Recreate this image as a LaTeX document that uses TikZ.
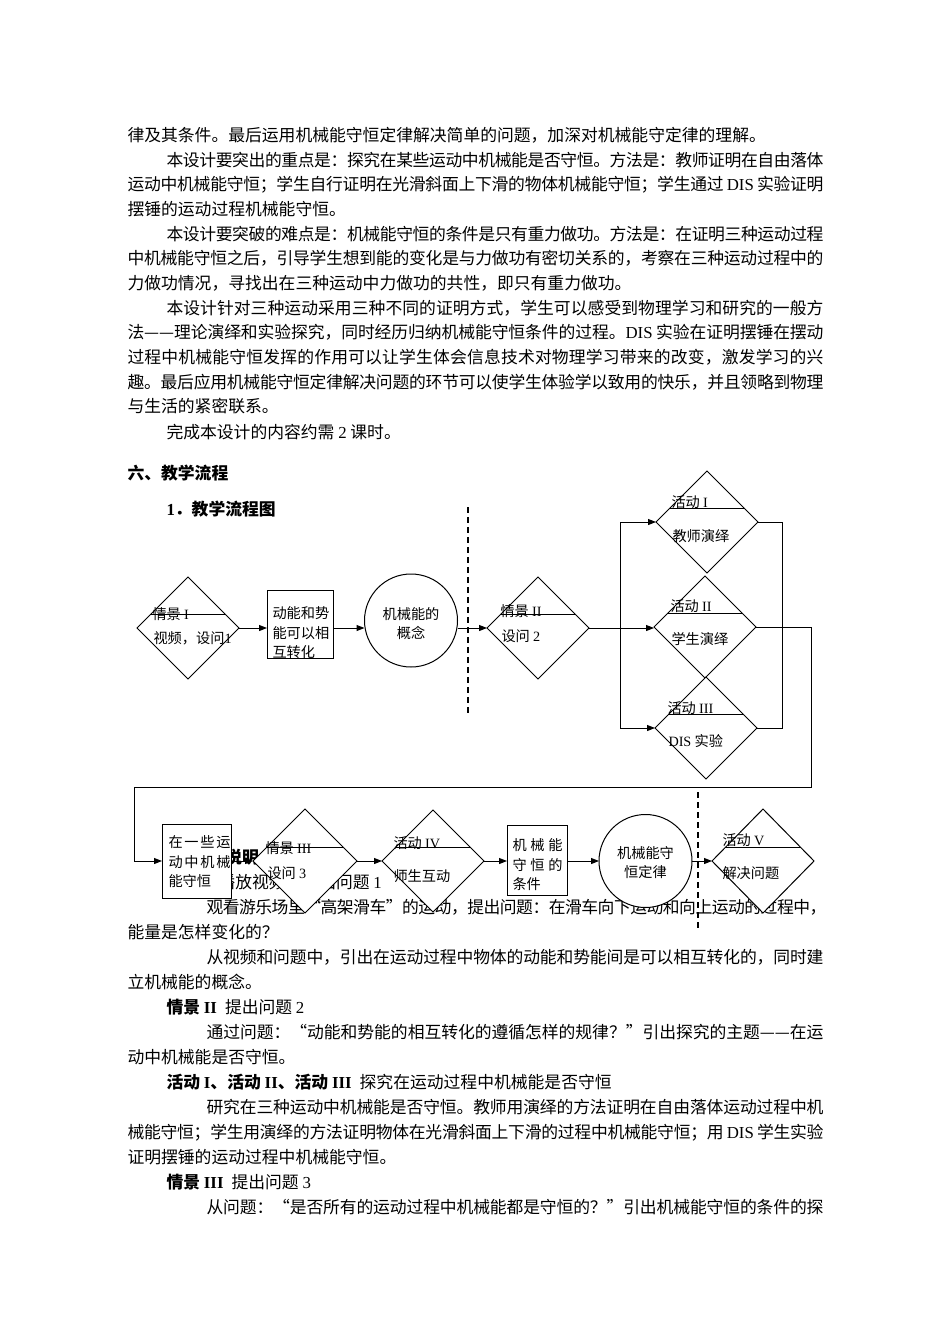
\documentclass[tikz,border=0pt]{standalone}
\usepackage{fontspec}
\setmainfont{Noto Sans CJK SC}
\newfontfamily\latinfont{Liberation Serif}
\newcommand\en[1]{{\latinfont #1}}
\newcommand\jline[2]{\hbox to #1pt{#2}}
\usetikzlibrary{shapes.geometric,arrows.meta,calc}

% stretchable gaps between CJK characters, for justified lines
\XeTeXinterchartokenstate=1
\newcount\cjkc
\cjkc="3000
\loop\XeTeXcharclass\cjkc=7 \advance\cjkc by 1 \ifnum\cjkc<"A000 \repeat
\cjkc="FF00
\loop\XeTeXcharclass\cjkc=7 \advance\cjkc by 1 \ifnum\cjkc<"FFF0 \repeat
\XeTeXcharclass"201C=7 \XeTeXcharclass"201D=7 \XeTeXcharclass"2014=7
\XeTeXinterchartoks 7 7 = {\hskip 0pt plus 1pt minus 0.5pt\relax}

\tikzset{
  para/.style={anchor=base west, inner sep=0pt, font=\fontsize{16.8pt}{20pt}\selectfont},
  ftext/.style={inner sep=0pt, font=\fontsize{14.2pt}{19.5pt}\selectfont},
  dia/.style={diamond, draw, fill=white, minimum width=102pt, minimum height=102pt, inner sep=0pt, outer sep=0pt},
  box/.style={rectangle, draw, fill=white, inner sep=0pt, outer sep=0pt},
  ring/.style={circle, draw, fill=white, minimum size=93pt, inner sep=0pt, outer sep=0pt},
  arr/.style={-{Triangle[length=8pt,width=6pt]}},
  cut/.style={dashed, dash pattern=on 6pt off 4pt, line width=1.4pt}
}

\begin{document}
\begin{tikzpicture}[x=1pt, y=-1pt, line width=1pt]
  \useasboundingbox (0,0) rectangle (950,1344);
  \fill[white] (0,0) rectangle (950,1344);

  % page text
  \node[para] (p1) at (127,141) {律及其条件。最后运用机械能守恒定律解决简单的问题，加深对机械能守定律的理解。};
  \node[para] (p2) at (166,166) {\jline{657}{本设计要突出的重点是：探究在某些运动中机械能是否守恒。方法是：教师证明在自由落体}};
  \node[para] (p3) at (127,190) {\jline{696}{运动中机械能守恒；学生自行证明在光滑斜面上下滑的物体机械能守恒；学生通过 \en{DIS} 实验证明}};
  \node[para] (p4) at (127,215) {摆锤的运动过程机械能守恒。};
  \node[para] (p5) at (166,240) {\jline{657}{本设计要突破的难点是：机械能守恒的条件是只有重力做功。方法是：在证明三种运动过程}};
  \node[para] (p6) at (127,264) {\jline{696}{中机械能守恒之后，引导学生想到能的变化是与力做功有密切关系的，考察在三种运动过程中的}};
  \node[para] (p7) at (127,289) {力做功情况，寻找出在三种运动中力做功的共性，即只有重力做功。};
  \node[para] (p8) at (166,314) {\jline{657}{本设计针对三种运动采用三种不同的证明方式，学生可以感受到物理学习和研究的一般方}};
  \node[para] (p9) at (127,338) {\jline{696}{法——理论演绎和实验探究，同时经历归纳机械能守恒条件的过程。\en{DIS} 实验在证明摆锤在摆动}};
  \node[para] (p10) at (127,363) {\jline{696}{过程中机械能守恒发挥的作用可以让学生体会信息技术对物理学习带来的改变，激发学习的兴}};
  \node[para] (p11) at (127,388) {\jline{696}{趣。最后应用机械能守恒定律解决问题的环节可以使学生体验学以致用的快乐，并且领略到物理}};
  \node[para] (p12) at (127,412) {与生活的紧密联系。};
  \node[para] (p13) at (166,438) {完成本设计的内容约需 \en{2} 课时。};
  \node[para, font=\fontsize{16.8pt}{20pt}\selectfont\bfseries] (h1) at (127,479) {六、教学流程};
  \node[para, font=\fontsize{16.8pt}{20pt}\selectfont\bfseries] (h2) at (166,515) {\en{1}．教学流程图};
  \node[para, font=\fontsize{16.8pt}{20pt}\selectfont\bfseries] (h3) at (166,863) {\en{2}．流程说明};
  \node[para] (q1) at (166,888) {{\bfseries 情景 \en{I}}\hspace{8pt}播放视频，提出问题 \en{1}};
  \node[para] (q2) at (206,913) {\jline{617}{观看游乐场里“高架滑车”的运动，提出问题：在滑车向下运动和向上运动的过程中，}};
  \node[para] (q3) at (127,938) {能量是怎样变化的？};
  \node[para] (q4) at (206,963) {\jline{617}{从视频和问题中，引出在运动过程中物体的动能和势能间是可以相互转化的，同时建}};
  \node[para] (q5) at (127,988) {立机械能的概念。};
  \node[para] (q6) at (166,1013) {{\bfseries 情景 \en{II}}\hspace{8pt}提出问题 \en{2}};
  \node[para] (q7) at (206,1038) {\jline{617}{通过问题：“动能和势能的相互转化的遵循怎样的规律？”引出探究的主题——在运}};
  \node[para] (q8) at (127,1063) {动中机械能是否守恒。};
  \node[para] (q9) at (166,1088) {{\bfseries 活动 \en{I}、活动 \en{II}、活动 \en{III}}\hspace{8pt}探究在运动过程中机械能是否守恒};
  \node[para] (q10) at (206,1113) {\jline{617}{研究在三种运动中机械能是否守恒。教师用演绎的方法证明在自由落体运动过程中机}};
  \node[para] (q11) at (127,1138) {\jline{696}{械能守恒；学生用演绎的方法证明物体在光滑斜面上下滑的过程中机械能守恒；用 \en{DIS} 学生实验}};
  \node[para] (q12) at (127,1163) {证明摆锤的运动过程中机械能守恒。};
  \node[para] (q13) at (166,1188) {{\bfseries 情景 \en{III}}\hspace{8pt}提出问题 \en{3}};
  \node[para] (q14) at (206,1213) {\jline{617}{从问题：“是否所有的运动过程中机械能都是守恒的？”引出机械能守恒的条件的探}};

  % flow chart, first row
  \node[dia] (d1) at (188,628) {};
  \node[box, minimum width=66pt, minimum height=68pt] (b1) at (300,624) {};
  \node[ring] (c1) at (411,620.5) {};
  \node[dia] (d2) at (538,628) {};
  \node[dia] (a1) at (707,522) {};
  \node[dia] (a2) at (705,627) {};
  \node[dia] (a3) at (706,728) {};
  % second row
  \node[box, minimum width=69pt, minimum height=74pt] (b2) at (196.5,861) {};
  \node[dia, minimum width=104pt, minimum height=104pt] (d3) at (305,861) {};
  \node[dia] (a4) at (433,861) {};
  \node[box, minimum width=60pt, minimum height=70pt] (b3) at (537,860) {};
  \node[ring] (c2) at (645.5,861) {};
  \node[dia, minimum height=104pt] (a5) at (763,861) {};

  \foreach \n in {d1,d2,a1,a2,a3,d3,a4,a5}
    \draw ($(\n.west)!0.26!(\n.north)$) -- ($(\n.east)!0.26!(\n.north)$);

  % texts in the shapes
  \node[ftext, anchor=base west] (t1) at (152,619.4) {情景 \en{I}};
  \node[ftext, anchor=base west] (t2) at (153,643.4) {视频，设问\en{1}};
  \node[ftext, anchor=north west, align=left] (t3) at (272,606.5) {动能和势\\能可以相\\互转化};
  \node[ftext, align=center] (t4) at (411,623.5) {机械能的\\概念};
  \node[ftext, anchor=base west] (t5) at (500,616.4) {情景 \en{II}};
  \node[ftext, anchor=base west] (t6) at (501,641.4) {设问 \en{2}};
  \node[ftext, anchor=base west] (t7) at (671,507.4) {活动 \en{I}};
  \node[ftext, anchor=base west] (t8) at (672,541.4) {教师演绎};
  \node[ftext, anchor=base west] (t9) at (670,611.4) {活动 \en{II}};
  \node[ftext, anchor=base west] (t10) at (671,644.4) {学生演绎};
  \node[ftext, anchor=base west] (t11) at (667,713.4) {活动 \en{III}};
  \node[ftext, anchor=base west] (t12) at (668,746.4) {\en{DIS} 实验};
  \node[ftext, anchor=north west, align=left] (t13) at (168,835.5) {\jline{62}{在一些运}\\\jline{62}{动中机械}\\能守恒};
  \node[ftext, anchor=base west] (t14) at (265,853.4) {情景 \en{III}};
  \node[ftext, anchor=base west] (t15) at (267,878.4) {设问 \en{3}};
  \node[ftext, anchor=base west] (t16) at (393,848.4) {活动 \en{IV}};
  \node[ftext, anchor=base west] (t17) at (393,881.4) {师生互动};
  \node[ftext, anchor=north west, align=left] (t18) at (512,838.5) {\jline{50}{机械能}\\\jline{50}{守恒的}\\条件};
  \node[ftext, align=center] (t19) at (645.5,862.5) {机械能守\\恒定律};
  \node[ftext, anchor=base west] (t20) at (722,845.4) {活动 \en{V}};
  \node[ftext, anchor=base west] (t21) at (722,878.4) {解决问题};

  % connectors
  \draw[arr] (d1.east) -- (d1.east -| b1.west);
  \draw[arr] (b1.east |- d1) -- (c1.west |- d1);
  \draw[arr] (c1.east |- d1) -- (d2.west);
  \draw[arr] (d2.east) -- (a2.west |- d2);
  \coordinate (fork) at (620,628);
  \draw (fork |- a1) -- (fork |- a3);
  \draw[arr] (fork |- a1) -- (a1.west);
  \draw[arr] (fork |- a3) -- (a3.west);
  \coordinate (join) at (782,628);
  \draw (a1.east) -- (join |- a1) -- (join |- a3) -- (a3.east);
  \coordinate (rt) at (811,787);
  \coordinate (lt) at (134,787);
  \draw[arr] (a2.east) -- (rt |- a2) -- (rt) -- (lt) -- (lt |- b2) -- (b2.west);
  \draw[arr] (b2.east |- d3) -- (d3.west);
  \draw[arr] (d3.east) -- (a4.west);
  \draw[arr] (a4.east) -- (b3.west |- a4);
  \draw[arr] (b3.east |- a4) -- (c2.west);
  \draw[arr] (c2.east) -- (a5.west);

  % dashed cuts
  \draw[cut] (468,507) -- (468,716);
  \draw[cut] (698,792) -- (698,930);
\end{tikzpicture}
\end{document}
